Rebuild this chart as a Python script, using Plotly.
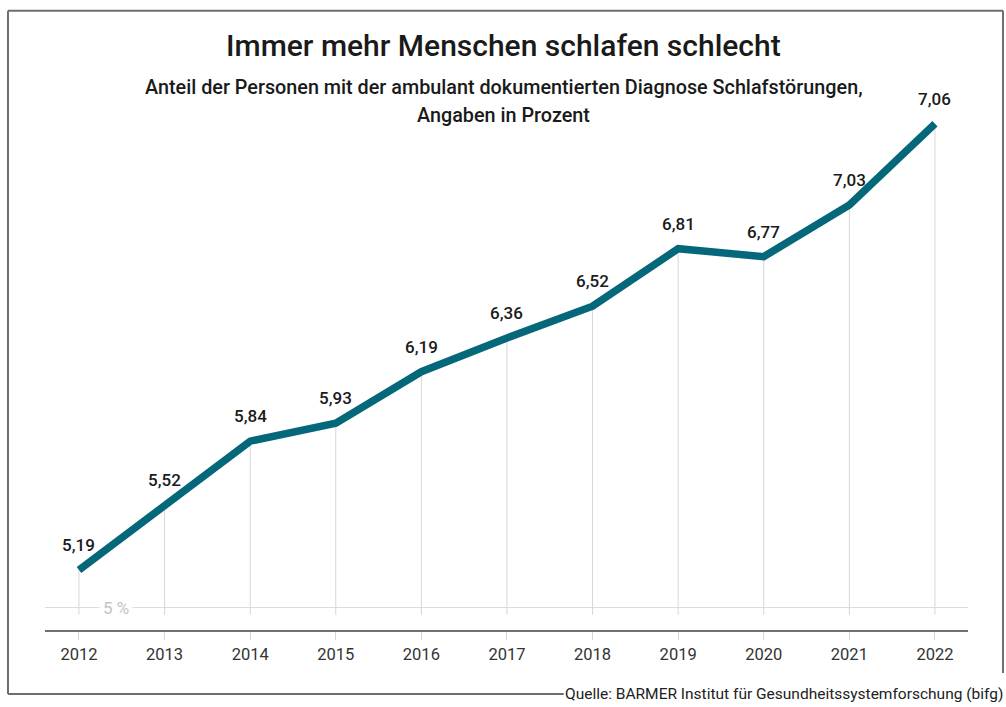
import plotly.graph_objects as go

# ---- data ----
years = [2012, 2013, 2014, 2015, 2016, 2017, 2018, 2019, 2020, 2021, 2022]
# values as labelled in the chart
labels = ["5,19", "5,52", "5,84", "5,93", "6,19", "6,36", "6,52", "6,81", "6,77", "7,03", "7,06"]
values = [5.19, 5.52, 5.84, 5.93, 6.19, 6.36, 6.52, 6.81, 6.77, 7.03, 7.44]
year_ticks = [str(y) for y in years]

TEAL = "#05687a"
FONT = "Roboto"
grid_floor = 4.965

fig = go.Figure()

# vertical drop lines from each point
gx, gy = [], []
for x, v in zip(years, values):
    gx += [x, x, None]
    gy += [v, grid_floor, None]
fig.add_trace(go.Scatter(x=gx, y=gy, mode="lines",
                         line=dict(color="#d6d6d6", width=1),
                         hoverinfo="skip", showlegend=False))

# main line
fig.add_trace(go.Scatter(x=years, y=values, mode="lines",
                         line=dict(color=TEAL, width=7.5, shape="linear"),
                         showlegend=False))

# data labels
for x, v, t in zip(years, values, labels):
    fig.add_annotation(x=x, y=v, text=t, showarrow=False, yshift=25,
                       font=dict(family=FONT, size=17, color="#1a1a1a", weight=500))

# 5 % label on gridline
fig.add_annotation(x=2012.43, y=5, text="5 %", showarrow=False,
                   bgcolor="white", borderpad=3,
                   font=dict(family=FONT, size=17, color="#c4c4c4"))

# titles
fig.add_annotation(xref="paper", yref="paper", x=0.497, y=1.125, text="Immer mehr Menschen schlafen schlecht",
                   showarrow=False, yanchor="middle",
                   font=dict(family=FONT, size=30, color="#1a1a1a", weight=500))
fig.add_annotation(xref="paper", yref="paper", x=0.497, y=1.0442,
                   text="Anteil der Personen mit der ambulant dokumentierten Diagnose Schlafstörungen,",
                   showarrow=False, yanchor="middle",
                   font=dict(family=FONT, size=19.8, color="#1a1a1a", weight=500))
fig.add_annotation(xref="paper", yref="paper", x=0.497, y=0.9885,
                   text="Angaben in Prozent",
                   showarrow=False, yanchor="middle",
                   font=dict(family=FONT, size=19.8, color="#1a1a1a", weight=500))

# source
fig.add_annotation(xref="paper", yref="paper", x=1.04, y=-0.123,
                   text="Quelle: BARMER Institut für Gesundheitssystemforschung (bifg)",
                   showarrow=False, xanchor="right", yanchor="middle",
                   font=dict(family=FONT, size=15.5, color="#222"))

# frame
frame = dict(color="#6e6e6e", width=2)
fig.add_shape(type="line", xref="paper", yref="paper", x0=-0.0401, x1=1.0379, y0=1.191, y1=1.191, line=frame)
fig.add_shape(type="line", xref="paper", yref="paper", x0=-0.0401, x1=-0.0401, y0=1.191, y1=-0.123, line=frame)
fig.add_shape(type="line", xref="paper", yref="paper", x0=1.0379, x1=1.0379, y0=1.191, y1=-0.0827, line=frame)
fig.add_shape(type="line", xref="paper", yref="paper", x0=-0.0401, x1=0.562, y0=-0.123, y1=-0.123, line=frame)

fig.update_xaxes(range=[2011.603, 2022.386], tickvals=years, ticktext=year_ticks,
                 showgrid=False, zeroline=False, showline=True, linecolor="#707070", linewidth=1.5,
                 ticks="outside", ticklen=8, tickcolor="#d6d6d6", tickwidth=1,
                 tickfont=dict(family=FONT, size=16.5, color="#333"), fixedrange=True)
fig.update_yaxes(range=[4.888, 7.509], tickvals=[5], showticklabels=False,
                 showgrid=True, gridcolor="#dcdcdc", gridwidth=1, zeroline=False, showline=False,
                 fixedrange=True)

fig.update_layout(width=1006, height=707, margin=dict(l=45, r=38, t=110, b=77),
                  plot_bgcolor="white", paper_bgcolor="white",
                  font=dict(family=FONT), showlegend=False)

fig.write_html("out.html", config={"displayModeBar": False})
